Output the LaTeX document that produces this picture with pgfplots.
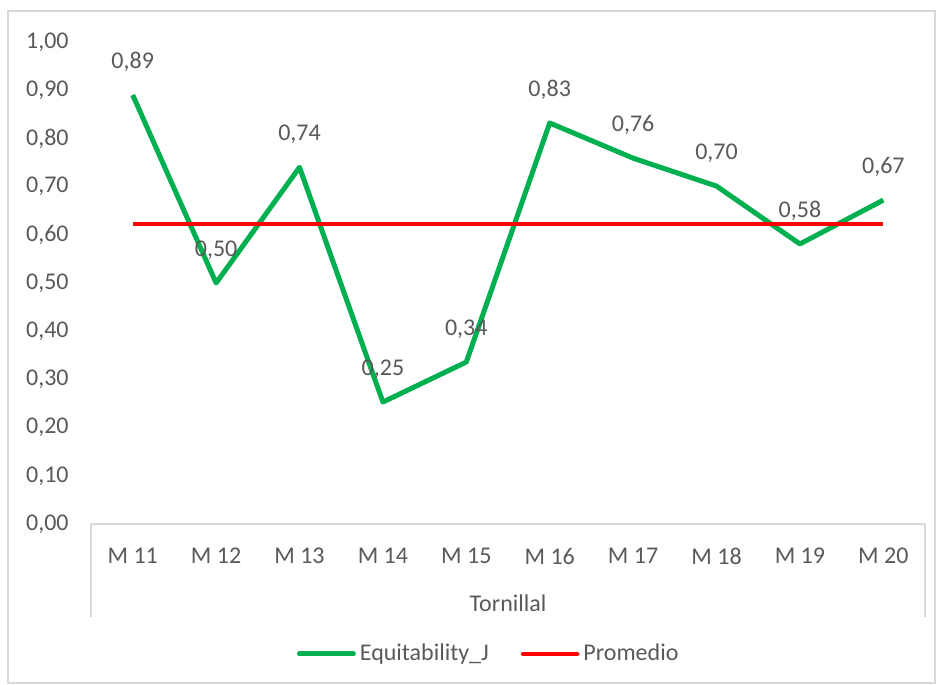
\documentclass[border=0pt]{standalone}
\usepackage{pgfplots}
\pgfplotsset{compat=1.18}
\usepackage{fontspec}
\setmainfont{Carlito}
\definecolor{txt}{RGB}{89,89,89}
\definecolor{axgray}{RGB}{217,217,217}
\definecolor{exgreen}{RGB}{0,176,80}
\definecolor{exred}{RGB}{255,0,0}

\pgfplotstableread{
x y lab
0 0.890 0,89
1 0.500 0,50
2 0.740 0,74
3 0.253 0,25
4 0.336 0,34
5 0.832 0,83
6 0.759 0,76
7 0.701 0,70
8 0.581 0,58
9 0.672 0,67
}\equitab

\pgfplotstableread{
x y
0 0.622
9 0.622
}\promtab

\begin{document}
\fontsize{12}{14}\selectfont
\begin{tikzpicture}
\useasboundingbox (0,0) rectangle (470pt,342pt);
\draw[axgray, line width=0.75pt] (4pt,0.5pt) rectangle (467.5pt,336.5pt);
\begin{axis}[
  at={(45.5pt,80pt)}, anchor=south west,
  scale only axis, width=417pt, height=241pt,
  xmin=-0.5, xmax=9.5, ymin=0, ymax=1,
  clip=false,
  axis lines*=left,
  y axis line style={draw=none},
  x axis line style={axgray, line width=0.75pt, -},
  major tick length=0pt,
  ytick={0,0.1,0.2,0.3,0.4,0.5,0.6,0.7,0.8,0.9,1.0},
  yticklabel style={/pgf/number format/use comma, /pgf/number format/fixed, /pgf/number format/fixed zerofill, /pgf/number format/precision=2, /pgf/number format/assume math mode=true},
  yticklabel style={font=\fontsize{12}{14}\selectfont, text=txt, xshift=-7pt},
  xtick={0,...,9},
  xticklabels={M 11,M 12,M 13,M 14,M 15,M 16,M 17,M 18,M 19,M 20},
  xticklabel style={font=\fontsize{12}{14}\selectfont, text=txt, yshift=-8pt},
  legend columns=2,
  legend style={at={(0.478,-0.2697)}, anchor=center, draw=none, fill=none,
    font=\fontsize{12}{14}\selectfont, text=txt,
    /tikz/every even column/.append style={column sep=14pt}},
  legend image code/.code={\draw[#1, line cap=round] (0pt,0pt) -- (27pt,0pt);},
]
\addplot[exgreen, line width=2.5pt, line join=round,
  point meta=explicit symbolic,
  nodes near coords={\pgfplotspointmeta},
  nodes near coords style={font=\fontsize{12}{14}\selectfont, text=txt, anchor=center, yshift=16.5pt}]
  table[x=x, y=y, meta=lab] {\equitab};
\addlegendentry{Equitability\_J}
\addplot[exred, line width=2.3pt] table[x=x, y=y] {\promtab};
\addlegendentry{Promedio}
\draw[axgray, line width=0.75pt] (axis cs:-0.5,0) -- ([yshift=-46.5pt]axis cs:-0.5,0);
\draw[axgray, line width=0.75pt] (axis cs:9.5,0) -- ([yshift=-46.5pt]axis cs:9.5,0);
\node[text=txt, font=\fontsize{12}{14}\selectfont] at ([yshift=-39.5pt]axis cs:4.5,0) {Tornillal};
\end{axis}
\end{tikzpicture}
\end{document}
